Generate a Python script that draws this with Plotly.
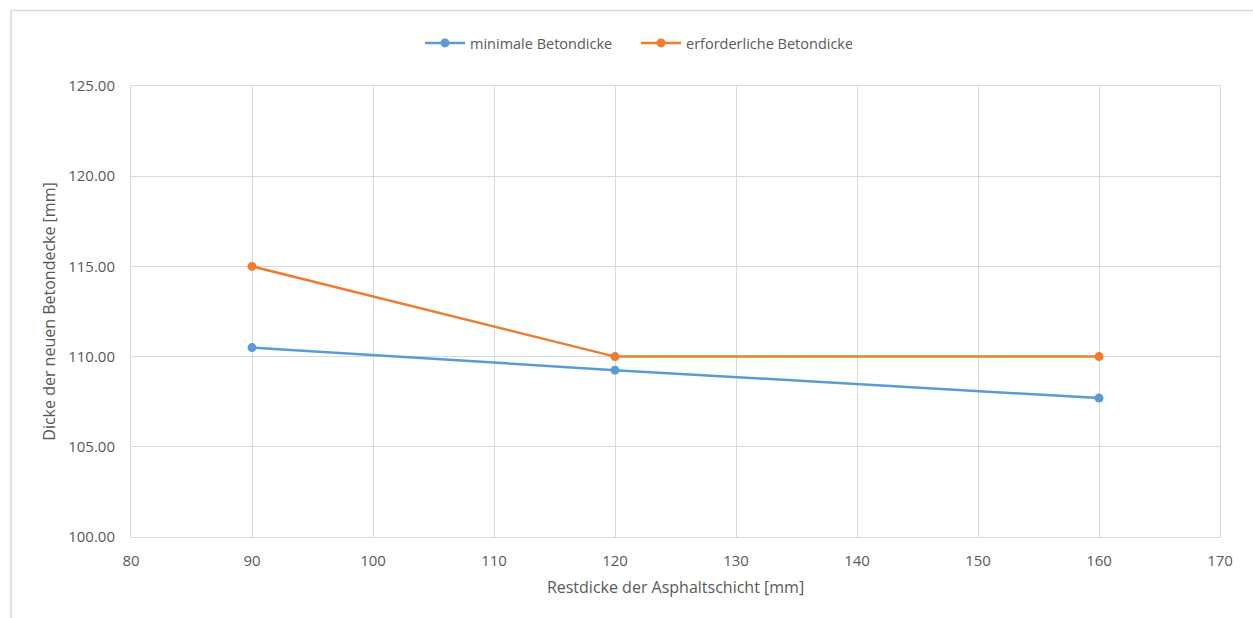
import plotly.graph_objects as go

x_vals = [90, 120, 160]
min_dicke = [110.5, 109.25, 107.7]
erf_dicke = [115.0, 110.0, 110.0]
series_names = ["minimale Betondicke", "erforderliche Betondicke"]

W, H = 1253, 618
L, R, T, B = 131, 33, 86, 81
pw, ph = W - L - R, H - T - B

font_fam = "Open Sans, Liberation Sans, sans-serif"
txt = "#595959"
grid = "#d9d9d9"

fig = go.Figure()
fig.add_trace(go.Scatter(x=x_vals, y=min_dicke, name=series_names[0], mode="lines+markers",
                         line=dict(color="#5b9bd5", width=2.5), marker=dict(size=9, color="#5b9bd5")))
fig.add_trace(go.Scatter(x=x_vals, y=erf_dicke, name=series_names[1], mode="lines+markers",
                         line=dict(color="#ed7d31", width=2.5), marker=dict(size=9, color="#ed7d31")))

def px_x(p):
    return (p - L) / pw

def px_y(p):
    return (H - B - p) / ph

fig.update_layout(
    width=W, height=H,
    margin=dict(l=L, r=R, t=T, b=B),
    paper_bgcolor="white", plot_bgcolor="white",
    font=dict(family=font_fam, color=txt, size=14),
    showlegend=True,
    legend=dict(orientation="h", x=px_x(420), xanchor="left", y=px_y(43), yanchor="middle",
                font=dict(size=14.5, color=txt), itemwidth=40, entrywidth=161, entrywidthmode="pixels"),
    xaxis=dict(range=[80, 170], dtick=10, tick0=80, showgrid=True, gridcolor=grid, gridwidth=1,
               showline=True, linecolor=grid, mirror=True, zeroline=False,
               ticks="", ticklabelstandoff=10,
               title=dict(text="Restdicke der Asphaltschicht [mm]", font=dict(size=16, color=txt), standoff=12),
               tickfont=dict(size=15, color=txt)),
    yaxis=dict(range=[100, 125], dtick=5, tick0=100, tickformat=".2f", showgrid=True, gridcolor=grid, gridwidth=1,
               showline=True, linecolor=grid, mirror=True, zeroline=False,
               ticks="", ticklabelstandoff=12,
               title=dict(text="Dicke der neuen Betondecke [mm]", font=dict(size=16, color=txt), standoff=8),
               tickfont=dict(size=15, color=txt)),
    shapes=[
        dict(type="line", xref="paper", yref="paper", x0=px_x(11), x1=px_x(1253), y0=px_y(10.5), y1=px_y(10.5),
             line=dict(color="#d9d9d9", width=1.5)),
        dict(type="line", xref="paper", yref="paper", x0=px_x(11), x1=px_x(11), y0=px_y(10.5), y1=px_y(618),
             line=dict(color="#d9d9d9", width=1.5)),
    ],
)

fig.write_html("out.html")
